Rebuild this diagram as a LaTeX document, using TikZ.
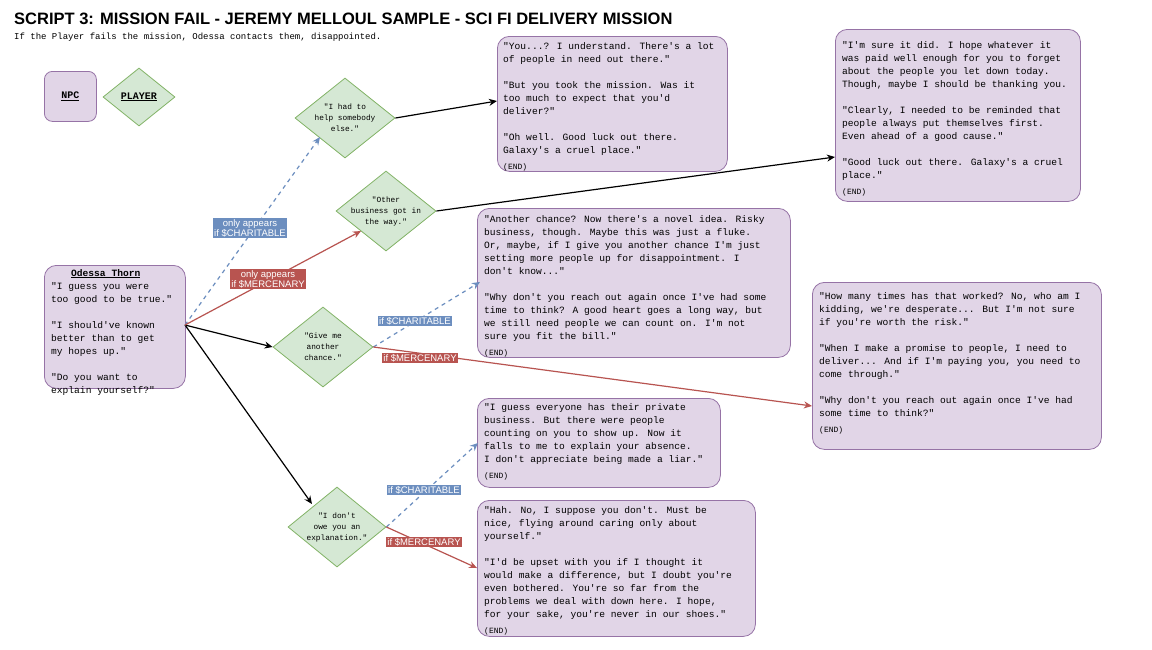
\documentclass[tikz,border=0pt]{standalone}
\usepackage{fontspec}
\setmainfont{Liberation Sans}
\newfontfamily\mono{Liberation Mono}
\usetikzlibrary{shapes.geometric,arrows.meta}
\definecolor{npcf}{HTML}{E1D5E7}\definecolor{npcd}{HTML}{9673A6}
\definecolor{plf}{HTML}{D5E8D4}\definecolor{pld}{HTML}{82B366}
\definecolor{cb}{HTML}{6C8EBF}\definecolor{cr}{HTML}{B85450}
\tikzset{
 box/.style={draw=npcd,fill=npcf,rounded corners=12pt,line width=0.8pt,anchor=north west,inner sep=0},
 btxt/.style={anchor=north west,align=left,inner sep=0,font=\mono\fontsize{9.6}{13}\selectfont},
 dia/.style={draw=pld,fill=plf,diamond,inner sep=0,line width=0.8pt},
 dtxt/.style={align=center,inner sep=0,font=\mono\fontsize{7.8}{11}\selectfont},
 arr/.style={line width=1.2pt,-{Stealth[length=8pt,width=7pt]}},
 blue/.style={arr,draw=cb,dash pattern=on 4pt off 4pt},
 red/.style={arr,draw=cr},
 lab/.style={font=\fontsize{9.5}{10}\selectfont,text=white,inner sep=1pt,align=center},
 lb/.style={lab,fill=cb},lr/.style={lab,fill=cr}
}
\begin{document}
\begin{tikzpicture}[x=1pt,y=-1pt]
\path[use as bounding box,fill=white] (0,0) rectangle (1152,649);
\node[anchor=north west,inner sep=0,font=\bfseries\fontsize{16.5}{18}\selectfont] (title) at (14,13) {SCRIPT 3: MISSION FAIL - JEREMY MELLOUL SAMPLE - SCI FI DELIVERY MISSION};
\node[anchor=north west,inner sep=0,font=\mono\fontsize{9}{10}\selectfont] (sub) at (14,33) {If the Player fails the mission, Odessa contacts them, disappointed.};
% legend
\node[box,minimum width=52,minimum height=50,rounded corners=8pt] (npc) at (44,71) {};
\node[font=\mono\bfseries\fontsize{10}{12}\selectfont] (npct) at (npc.center) {\underline{NPC}};
\node[dia,minimum width=72,minimum height=58] (pl) at (139,97) {};
\node[font=\mono\bfseries\fontsize{10}{12}\selectfont] (plt) at (pl.center) {\underline{PLAYER}};
% Odessa
\node[box,minimum width=141,minimum height=123] (od) at (44,265) {};
\node[btxt] (odt) at (51,269) {\hspace*{20pt}\textbf{\underline{Odessa Thorn}}\\"I guess you were\\too good to be true."\\[13pt]"I should've known\\better than to get\\my hopes up."\\[13pt]"Do you want to\\explain yourself?"};
% diamonds
\node[dia,minimum width=100,minimum height=80] (d1) at (345,118) {};
\node[dtxt] (d1t) at (d1.center) {"I had to\\help somebody\\else."};
\node[dia,minimum width=100,minimum height=80] (d2) at (386,211) {};
\node[dtxt] (d2t) at (d2.center) {"Other\\business got in\\the way."};
\node[dia,minimum width=100,minimum height=80] (d3) at (323,347) {};
\node[dtxt] (d3t) at (d3.center) {"Give me\\another\\chance."};
\node[dia,minimum width=98,minimum height=80] (d4) at (337,527) {};
\node[dtxt] (d4t) at (d4.center) {"I don't\\owe you an\\explanation."};
% boxes
\node[box,minimum width=230,minimum height=135] (b1) at (497,36) {};
\node[btxt] (b1t) at (503,42) {"You...? I understand. There's a lot\\of people in need out there."\\[13pt]"But you took the mission. Was it\\too much to expect that you'd\\deliver?"\\[13pt]"Oh well. Good luck out there.\\Galaxy's a cruel place."\\[3pt]{\fontsize{8}{10}\selectfont(END)}};
\node[box,minimum width=245,minimum height=172] (b2) at (835,29) {};
\node[btxt] (b2t) at (842,41) {"I'm sure it did. I hope whatever it\\was paid well enough for you to forget\\about the people you let down today.\\Though, maybe I should be thanking you.\\[13pt]"Clearly, I needed to be reminded that\\people always put themselves first.\\Even ahead of a good cause."\\[13pt]"Good luck out there. Galaxy's a cruel\\place."\\[3pt]{\fontsize{8}{10}\selectfont(END)}};
\node[box,minimum width=313,minimum height=149] (b3) at (477,208) {};
\node[btxt] (b3t) at (484,215) {"Another chance? Now there's a novel idea. Risky\\business, though. Maybe this was just a fluke.\\Or, maybe, if I give you another chance I'm just\\setting more people up for disappointment. I\\don't know..."\\[13pt]"Why don't you reach out again once I've had some\\time to think? A good heart goes a long way, but\\we still need people we can count on. I'm not\\sure you fit the bill."\\[3pt]{\fontsize{8}{10}\selectfont(END)}};
\node[box,minimum width=289,minimum height=167] (b4) at (812,282) {};
\node[btxt] (b4t) at (819,292) {"How many times has that worked? No, who am I\\kidding, we're desperate... But I'm not sure\\if you're worth the risk."\\[13pt]"When I make a promise to people, I need to\\deliver... And if I'm paying you, you need to\\come through."\\[13pt]"Why don't you reach out again once I've had\\some time to think?"\\[3pt]{\fontsize{8}{10}\selectfont(END)}};
\node[box,minimum width=243,minimum height=89] (b5) at (477,398) {};
\node[btxt] (b5t) at (484,403) {"I guess everyone has their private\\business. But there were people\\counting on you to show up. Now it\\falls to me to explain your absence.\\I don't appreciate being made a liar."\\[3pt]{\fontsize{8}{10}\selectfont(END)}};
\node[box,minimum width=278,minimum height=136] (b6) at (477,500) {};
\node[btxt] (b6t) at (484,506) {"Hah. No, I suppose you don't. Must be\\nice, flying around caring only about\\yourself."\\[13pt]"I'd be upset with you if I thought it\\would make a difference, but I doubt you're\\even bothered. You're so far from the\\problems we deal with down here. I hope,\\for your sake, you're never in our shoes."\\[3pt]{\fontsize{8}{10}\selectfont(END)}};
% connectors
\coordinate (oe) at (185,325);
\draw[arr] (oe) -- (d3.west);
\draw[arr] (oe) -- (312,504) coordinate (d4n);
\draw[blue] (oe) -- (320,137) coordinate (d1sw);
\draw[red] (oe) -- (361,231) coordinate (d2sw);
\draw[arr] (d1.east) -- (497,101) coordinate (b1w);
\draw[arr] (d2.east) -- (835,157) coordinate (b2w);
\draw[blue] (d3.east) -- (480,282) coordinate (b3w);
\draw[red] (d3.east) -- (812,406) coordinate (b4w);
\draw[blue] (d4.east) -- (478,443) coordinate (b5w);
\draw[red] (d4.east) -- (477,568) coordinate (b6w);
% labels
\node[lb] (l1) at (250,228) {only appears\\if \$CHARITABLE};
\node[lr] (l2) at (268,279) {only appears\\if \$MERCENARY};
\node[lb] (l3) at (415,321) {if \$CHARITABLE};
\node[lr] (l4) at (420,358) {if \$MERCENARY};
\node[lb] (l5) at (424,490) {if \$CHARITABLE};
\node[lr] (l6) at (424,542) {if \$MERCENARY};
\end{tikzpicture}
\end{document}
